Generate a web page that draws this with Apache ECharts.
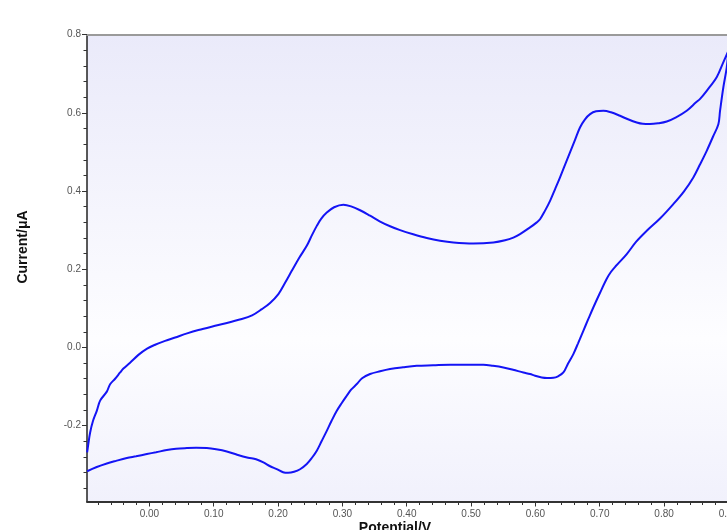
<!DOCTYPE html>
<html><head><meta charset="utf-8">
<script src="https://cdn.jsdelivr.net/npm/echarts@6/dist/echarts.min.js"></script>
<style>html,body{margin:0;padding:0;background:#fff}#c{width:727px;height:530px}</style>
</head><body><div id="c"></div>
<script>
// Forward (anodic) scan
const forwardPotential = [-0.0968,-0.0953,-0.0922,-0.0875,-0.0818,-0.0766,-0.0662,-0.0611,-0.0533,-0.0455,-0.0404,-0.030,-0.0171,-0.0036,0.0089,0.0244,0.040,0.0586,0.0762,0.1072,0.1436,0.1596,0.1747,0.1876,0.2005,0.2109,0.2213,0.2327,0.2446,0.2529,0.2602,0.2669,0.2757,0.2871,0.3015,0.3135,0.3275,0.343,0.3586,0.3741,0.3897,0.41,0.4311,0.4518,0.4725,0.5036,0.5347,0.5528,0.5657,0.5761,0.5917,0.6021,0.6072,0.615,0.6228,0.6305,0.6383,0.646,0.6538,0.6616,0.6693,0.6771,0.685,0.6943,0.7056,0.7175,0.7315,0.7439,0.7575,0.767,0.778,0.7906,0.8042,0.8186,0.8352,0.8497,0.856,0.8663,0.882,0.8917,0.90];
const forwardCurrent = [-0.2685,-0.251,-0.218,-0.187,-0.162,-0.136,-0.113,-0.094,-0.080,-0.064,-0.054,-0.039,-0.019,-0.003,0.007,0.017,0.0256,0.036,0.0445,0.0573,0.0726,0.082,0.098,0.114,0.1366,0.1655,0.196,0.229,0.260,0.288,0.311,0.329,0.345,0.3586,0.365,0.361,0.351,0.337,0.322,0.310,0.300,0.2895,0.280,0.273,0.2685,0.266,0.2685,0.274,0.281,0.290,0.307,0.320,0.328,0.350,0.375,0.4046,0.435,0.467,0.4987,0.531,0.5627,0.5836,0.597,0.604,0.6054,0.6015,0.5926,0.5836,0.5754,0.572,0.5714,0.5734,0.578,0.5887,0.6054,0.627,0.636,0.6565,0.692,0.728,0.759];
// Reverse (cathodic) scan
const reversePotential = [0.8974,0.8921,0.887,0.8844,0.876,0.8663,0.856,0.8455,0.831,0.8144,0.7937,0.7731,0.7564,0.742,0.7254,0.7176,0.7109,0.7005,0.69,0.6818,0.6745,0.6663,0.659,0.6508,0.6435,0.6352,0.628,0.618,0.6099,0.5995,0.5917,0.5813,0.5653,0.5502,0.534,0.5191,0.4922,0.4674,0.441,0.4156,0.3943,0.3741,0.3586,0.343,0.3306,0.3224,0.3135,0.3068,0.2988,0.2913,0.2832,0.2757,0.2676,0.2602,0.2521,0.2446,0.2342,0.2249,0.2156,0.2078,0.198,0.1876,0.1772,0.1658,0.1534,0.1363,0.1203,0.1037,0.0892,0.0726,0.0581,0.0415,0.027,0.0104,-0.004,-0.0207,-0.0351,-0.0518,-0.0662,-0.0828,-0.0968];
const reverseCurrent = [0.716,0.665,0.605,0.571,0.539,0.503,0.4685,0.435,0.3995,0.3668,0.330,0.2985,0.270,0.239,0.209,0.1936,0.1757,0.140,0.1023,0.071,0.0427,0.0107,-0.0169,-0.041,-0.064,-0.0737,-0.0775,-0.078,-0.0767,-0.0724,-0.068,-0.064,-0.057,-0.051,-0.0468,-0.0442,-0.0442,-0.0442,-0.0455,-0.0468,-0.0506,-0.0552,-0.0609,-0.068,-0.0788,-0.0936,-0.108,-0.1235,-0.1427,-0.162,-0.1875,-0.2133,-0.240,-0.264,-0.2834,-0.298,-0.3115,-0.318,-0.3205,-0.319,-0.311,-0.3038,-0.294,-0.286,-0.282,-0.2744,-0.266,-0.2604,-0.2573,-0.2565,-0.2573,-0.259,-0.2624,-0.268,-0.2726,-0.2783,-0.2829,-0.290,-0.2967,-0.3064,-0.3166];

const xMajorTicks = [0,0.1,0.2,0.3,0.4,0.5,0.6,0.7,0.8,0.9];
const xMinorTicks = [-0.08,-0.06,-0.04,-0.02,0.02,0.04,0.06,0.08,0.12,0.14,0.16,0.18,0.22,0.24,0.26,0.28,0.32,0.34,0.36,0.38,0.42,0.44,0.46,0.48,0.52,0.54,0.56,0.58,0.62,0.64,0.66,0.68,0.72,0.74,0.76,0.78,0.82,0.84,0.86,0.88];
const yMajorTicks = [-0.2,0,0.2,0.4,0.6,0.8];
const yMinorTicks = [-0.36,-0.32,-0.28,-0.24,-0.16,-0.12,-0.08,-0.04,0.04,0.08,0.12,0.16,0.24,0.28,0.32,0.36,0.44,0.48,0.52,0.56,0.64,0.68,0.72,0.76];

const xName = 'Potential/V';
const yName = 'Current/μA';

const X_MIN = -0.097, X_MAX = 0.9, Y_MIN = -0.394, Y_MAX = 0.8;

const cvData = [];
forwardPotential.forEach((p, i) => cvData.push([p, forwardCurrent[i]]));
reversePotential.forEach((p, i) => cvData.push([p, reverseCurrent[i]]));

const font = "'Liberation Sans', Arial, sans-serif";
const gridPos = {left: 87, top: 34.7, right: -1.4, bottom: 28.5};

const chart = echarts.init(document.getElementById('c'), null, {renderer: 'canvas'});
chart.setOption({
  animation: false,
  backgroundColor: '#ffffff',
  grid: [
    Object.assign({
      show: true, borderWidth: 0, outerBoundsMode: 'none', containLabel: false,
      backgroundColor: new echarts.graphic.LinearGradient(0, 0, 0, 1, [
        {offset: 0, color: '#eaeafa'},
        {offset: 0.65, color: '#fdfdff'},
        {offset: 1, color: '#f1f1fc'}
      ])
    }, gridPos),
    Object.assign({show: false, outerBoundsMode: 'none', containLabel: false}, gridPos)
  ],
  xAxis: [
    {
      type: 'value', gridIndex: 0, position: 'bottom', min: X_MIN, max: X_MAX,
      axisLine: {show: true, onZero: false, lineStyle: {color: '#333', width: 2}},
      axisTick: {show: true, customValues: xMajorTicks, length: 5, lineStyle: {color: '#333', width: 1}},
      axisLabel: {show: true, customValues: xMajorTicks, margin: 8, fontSize: 10, color: '#555', fontFamily: font,
        formatter: v => v.toFixed(2)},
      splitLine: {show: false}
    },
    {
      type: 'value', gridIndex: 0, position: 'top', min: X_MIN, max: X_MAX,
      axisLine: {show: true, onZero: false, lineStyle: {color: '#9a9a9a', width: 2}},
      axisTick: {show: false}, axisLabel: {show: false}, splitLine: {show: false}
    },
    {
      type: 'value', gridIndex: 1, position: 'bottom', min: X_MIN, max: X_MAX,
      axisLine: {show: false, onZero: false},
      axisTick: {show: true, customValues: xMinorTicks, length: 3.5, lineStyle: {color: '#333', width: 1}},
      axisLabel: {show: false}, splitLine: {show: false}
    }
  ],
  yAxis: [
    {
      type: 'value', gridIndex: 0, position: 'left', min: Y_MIN, max: Y_MAX,
      axisLine: {show: true, onZero: false, lineStyle: {color: '#222', width: 1.5}},
      axisTick: {show: true, customValues: yMajorTicks, length: 5, lineStyle: {color: '#333', width: 1}},
      axisLabel: {show: true, customValues: yMajorTicks, margin: 6, fontSize: 10, color: '#555', fontFamily: font,
        formatter: v => v.toFixed(1)},
      splitLine: {show: false}
    },
    {
      type: 'value', gridIndex: 1, position: 'left', min: Y_MIN, max: Y_MAX,
      axisLine: {show: false, onZero: false},
      axisTick: {show: true, customValues: yMinorTicks, length: 3.5, lineStyle: {color: '#333', width: 1}},
      axisLabel: {show: false}, splitLine: {show: false}
    }
  ],
  graphic: [
    {type: 'text', rotation: Math.PI / 2, x: 23, y: 247,
      style: {text: yName, font: "bold 14px 'Liberation Sans', Arial, sans-serif", fill: '#111',
        textAlign: 'center', textVerticalAlign: 'middle'}},
    {type: 'text', x: 395, y: 521,
      style: {text: xName, font: "bold 14px 'Liberation Sans', Arial, sans-serif", fill: '#111',
        textAlign: 'center', textVerticalAlign: 'top'}}
  ],
  series: [{
    type: 'line', xAxisIndex: 0, yAxisIndex: 0, data: cvData,
    showSymbol: false, smooth: 0.35, clip: true,
    lineStyle: {color: '#1414f5', width: 2}
  }]
});
</script>
</body></html>
